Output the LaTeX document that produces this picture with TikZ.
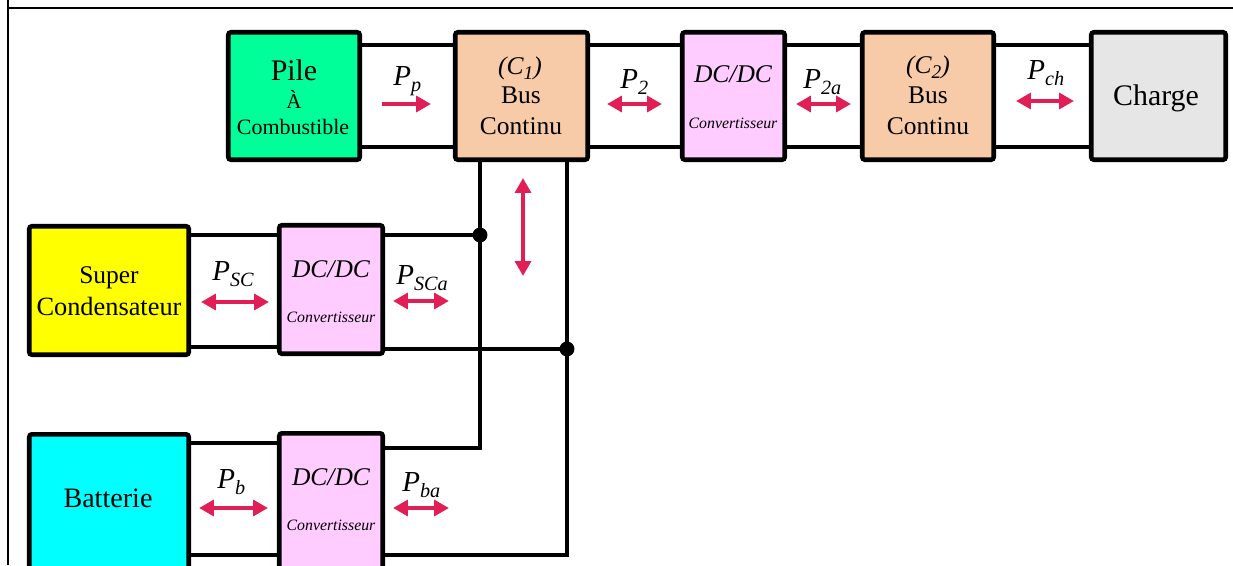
\documentclass[tikz,border=0pt]{standalone}
\usepackage{fontspec}
\setmainfont{Liberation Serif}
\usetikzlibrary{arrows.meta,calc}
\definecolor{pilegreen}{RGB}{0,255,153}
\definecolor{busorange}{RGB}{248,203,168}
\definecolor{convpink}{RGB}{255,204,255}
\definecolor{chargegray}{RGB}{230,230,230}
\definecolor{scyellow}{RGB}{255,255,0}
\definecolor{batcyan}{RGB}{0,255,255}
\definecolor{flow}{RGB}{226,30,86}
\newcommand\mysub[1]{\raisebox{-0.22em}{\fontsize{11.5}{12}\selectfont #1}}
\newcommand\mysubc[1]{\raisebox{-0.2em}{\fontsize{11}{12}\selectfont #1}}
\tikzset{
  blk/.style={draw=black, line width=2.6pt, rounded corners=1.5pt, inner sep=0pt},
  wire/.style={line width=2.4pt, black},
  frameline/.style={line width=1.2pt, black},
  flowone/.style={line width=2.6pt, flow, -{Triangle[length=8.5pt,width=9pt]}},
  flowtwo/.style={line width=2.6pt, flow, {Triangle[length=8.5pt,width=9pt]}-{Triangle[length=8.5pt,width=9pt]}},
  txt/.style={inner sep=0pt, anchor=base},
  plab/.style={inner sep=0pt, anchor=base west, font=\fontsize{16.5}{18}\selectfont\itshape},
  jdot/.style={circle, fill=black, inner sep=0pt, minimum size=8.5pt},
  big/.style={font=\fontsize{17}{20}\selectfont},
  mid/.style={font=\fontsize{14.5}{17}\selectfont},
  midit/.style={font=\fontsize{14.5}{17}\selectfont\itshape},
  small/.style={font=\fontsize{12.5}{15}\selectfont},
  tiny/.style={font=\fontsize{9}{11}\selectfont\itshape}
}
\begin{document}
\begin{tikzpicture}[x=0.02cm,y=-0.02cm]
\useasboundingbox (0,0) rectangle (1233,565);
\clip (0,0) rectangle (1233,565);
% frame
\coordinate (f0) at (8,0);
\coordinate (f1) at (8,565);
\coordinate (f2) at (8,8);
\coordinate (f3) at (1233,8);
\draw[frameline] (f0) -- (f1);
\draw[frameline] (f2) -- (f3);
% y-levels
\coordinate (ya) at (0,45);
\coordinate (yb) at (0,147);
\coordinate (ysc1) at (0,235);
\coordinate (ysc2) at (0,347);
\coordinate (yb1) at (0,443);
\coordinate (yb2) at (0,448);
\coordinate (yb3) at (0,555);
% blocks
\node[blk, fill=pilegreen, minimum width=2.63cm, minimum height=2.55cm] (pile) at (294,96) {};
\node[blk, fill=busorange, minimum width=2.65cm, minimum height=2.55cm] (c1) at (521.5,96) {};
\node[blk, fill=convpink, minimum width=2.05cm, minimum height=2.55cm] (dc1) at (733.5,96) {};
\node[blk, fill=busorange, minimum width=2.63cm, minimum height=2.55cm] (c2) at (928,96) {};
\node[blk, fill=chargegray, minimum width=2.69cm, minimum height=2.55cm] (charge) at (1158.5,96) {};
\node[blk, fill=scyellow, minimum width=3.19cm, minimum height=2.57cm] (sc) at (109,290.5) {};
\node[blk, fill=convpink, minimum width=2.07cm, minimum height=2.57cm] (scdc) at (331,289.5) {};
\node[blk, fill=batcyan, minimum width=3.19cm, minimum height=3.4cm] (bat) at (109,519.3) {};
\node[blk, fill=convpink, minimum width=2.07cm, minimum height=3.4cm] (batdc) at (331,518.3) {};
% junctions
\coordinate (j1) at (480,235);
\coordinate (j2) at (567,349);
% wires top row
\draw[wire] (pile.east |- ya) -- (c1.west |- ya);
\draw[wire] (pile.east |- yb) -- (c1.west |- yb);
\draw[wire] (c1.east |- ya) -- (dc1.west |- ya);
\draw[wire] (c1.east |- yb) -- (dc1.west |- yb);
\draw[wire] (dc1.east |- ya) -- (c2.west |- ya);
\draw[wire] (dc1.east |- yb) -- (c2.west |- yb);
\draw[wire] (c2.east |- ya) -- (charge.west |- ya);
\draw[wire] (c2.east |- yb) -- (charge.west |- yb);
% supercondensateur
\draw[wire] (sc.east |- ysc1) -- (scdc.west |- ysc1);
\draw[wire] (sc.east |- ysc2) -- (scdc.west |- ysc2);
\draw[wire] (scdc.east |- ysc1) -- (j1);
\draw[wire] (scdc.east |- j2) -- (j2);
% batterie
\draw[wire] (bat.east |- yb1) -- (batdc.west |- yb1);
\draw[wire] (bat.east |- yb3) -- (batdc.west |- yb3);
\draw[wire] (batdc.east |- yb2) -| (j1) -- (j1 |- c1.south);
\draw[wire] (batdc.east |- yb3) -| (j2) -- (j2 |- c1.south);
\node[jdot] (d1) at (j1) {};
\node[jdot] (d2) at (j2) {};
% texts in blocks
\node[txt, big] (pile-t1) at (294,80) {Pile};
\node[txt, font=\fontsize{12}{14}\selectfont] (pile-t2) at (294,108) {À};
\node[txt, small] (pile-t3) at (293,134) {Combustible};
\node[txt, midit] (c1-t1) at (520,74) {(C\mysubc{1})};
\node[txt, mid] (c1-t2) at (521,103) {Bus};
\node[txt, mid] (c1-t3) at (521,134) {Continu};
\node[txt, midit] (dc1-t1) at (733,82) {DC/DC};
\node[txt, tiny] (dc1-t2) at (733,128) {Convertisseur};
\node[txt, midit] (c2-t1) at (928,73) {(C\mysubc{2})};
\node[txt, mid] (c2-t2) at (928,103) {Bus};
\node[txt, mid] (c2-t3) at (928,134) {Continu};
\node[txt, big] (charge-t) at (1156,105) {Charge};
\node[txt, mid] (sc-t1) at (109,283) {Super};
\node[txt, font=\fontsize{15}{17}\selectfont] (sc-t2) at (109,315) {Condensateur};
\node[txt, midit] (scdc-t1) at (331,277) {DC/DC};
\node[txt, tiny] (scdc-t2) at (331,322) {Convertisseur};
\node[txt, font=\fontsize{16}{18}\selectfont] (bat-t) at (108,507) {Batterie};
\node[txt, midit] (batdc-t1) at (331,485) {DC/DC};
\node[txt, tiny] (batdc-t2) at (331,530) {Convertisseur};
% power labels
\node[plab] (lp) at (393,85) {P\mysub{p}};
\node[plab] (l2) at (620,88) {P\mysub{2}};
\node[plab] (l2a) at (803,88) {P\mysub{2a}};
\node[plab] (lch) at (1027,79) {P\mysub{ch}};
\node[plab] (lsc) at (212,280) {P\mysub{SC}};
\node[plab] (lsca) at (396,284) {P\mysub{SCa}};
\node[plab] (lb) at (217,488) {P\mysub{b}};
\node[plab] (lba) at (402,491) {P\mysub{ba}};
% flow arrows
\draw[flowone] (382,104) -- (431,104);
\draw[flowtwo] (607,104) -- (662,104);
\draw[flowtwo] (796,104) -- (851,104);
\draw[flowtwo] (1016,101) -- (1074,101);
\draw[flowtwo] (523,178) -- (523,276);
\draw[flowtwo] (201,302) -- (269,302);
\draw[flowtwo] (393,301) -- (449,301);
\draw[flowtwo] (199,508) -- (268,508);
\draw[flowtwo] (393,508) -- (449,508);
\end{tikzpicture}
\end{document}
